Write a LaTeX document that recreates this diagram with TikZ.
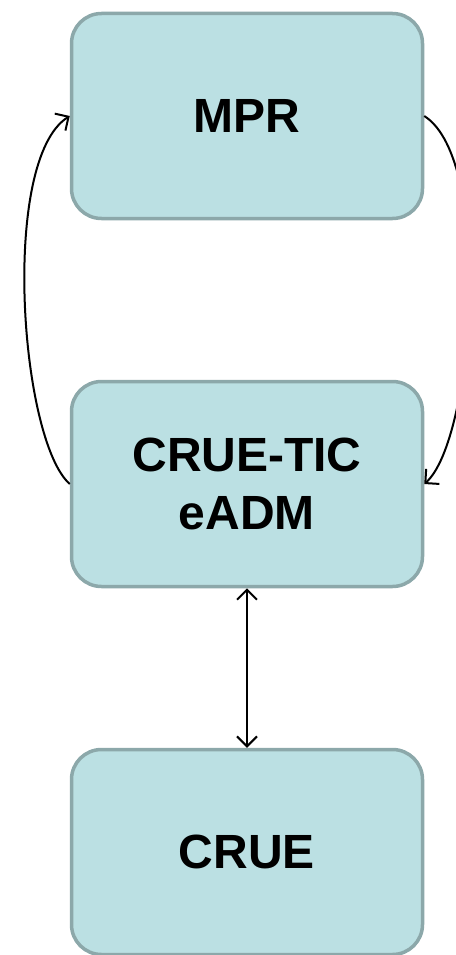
\documentclass[tikz,border=0pt]{standalone}
\usepackage{fontspec}
\setmainfont{Liberation Sans}
\usetikzlibrary{arrows.meta}
\definecolor{boxfill}{HTML}{BBE0E3}
\definecolor{boxdraw}{HTML}{8CA8AA}
\begin{document}
\begin{tikzpicture}[x=1pt,y=-1pt,
  blk/.style={draw=boxdraw,fill=boxfill,line width=3.5pt,rounded corners=30pt,
    minimum width=351pt,minimum height=205pt,align=center,
    font=\fontsize{48}{58}\selectfont\bfseries,text=black},
  conn/.style={line width=2pt,draw=black},
  barb/.style={Straight Barb[length=10pt,width=20pt]}]
\useasboundingbox (0,0) rectangle (455,955);
\node[blk] (mpr) at (247,116) {MPR};
\node[blk] (tic) at (247,484) {CRUE-TIC\\eADM};
\node[blk] (crue) at (247,852) {CRUE};
\draw[conn,-{Straight Barb[length=10pt,width=20pt]}] (tic.west) .. controls (20,440) and (0,160) .. (mpr.west);
\draw[conn,-{Straight Barb[length=10pt,width=20pt]}] (mpr.east) .. controls (494,160) and (474,440) .. (tic.east);
\draw[conn,{Straight Barb[length=10pt,width=20pt]}-{Straight Barb[length=10pt,width=20pt]}] (tic.south) -- (crue.north);
\end{tikzpicture}
\end{document}
